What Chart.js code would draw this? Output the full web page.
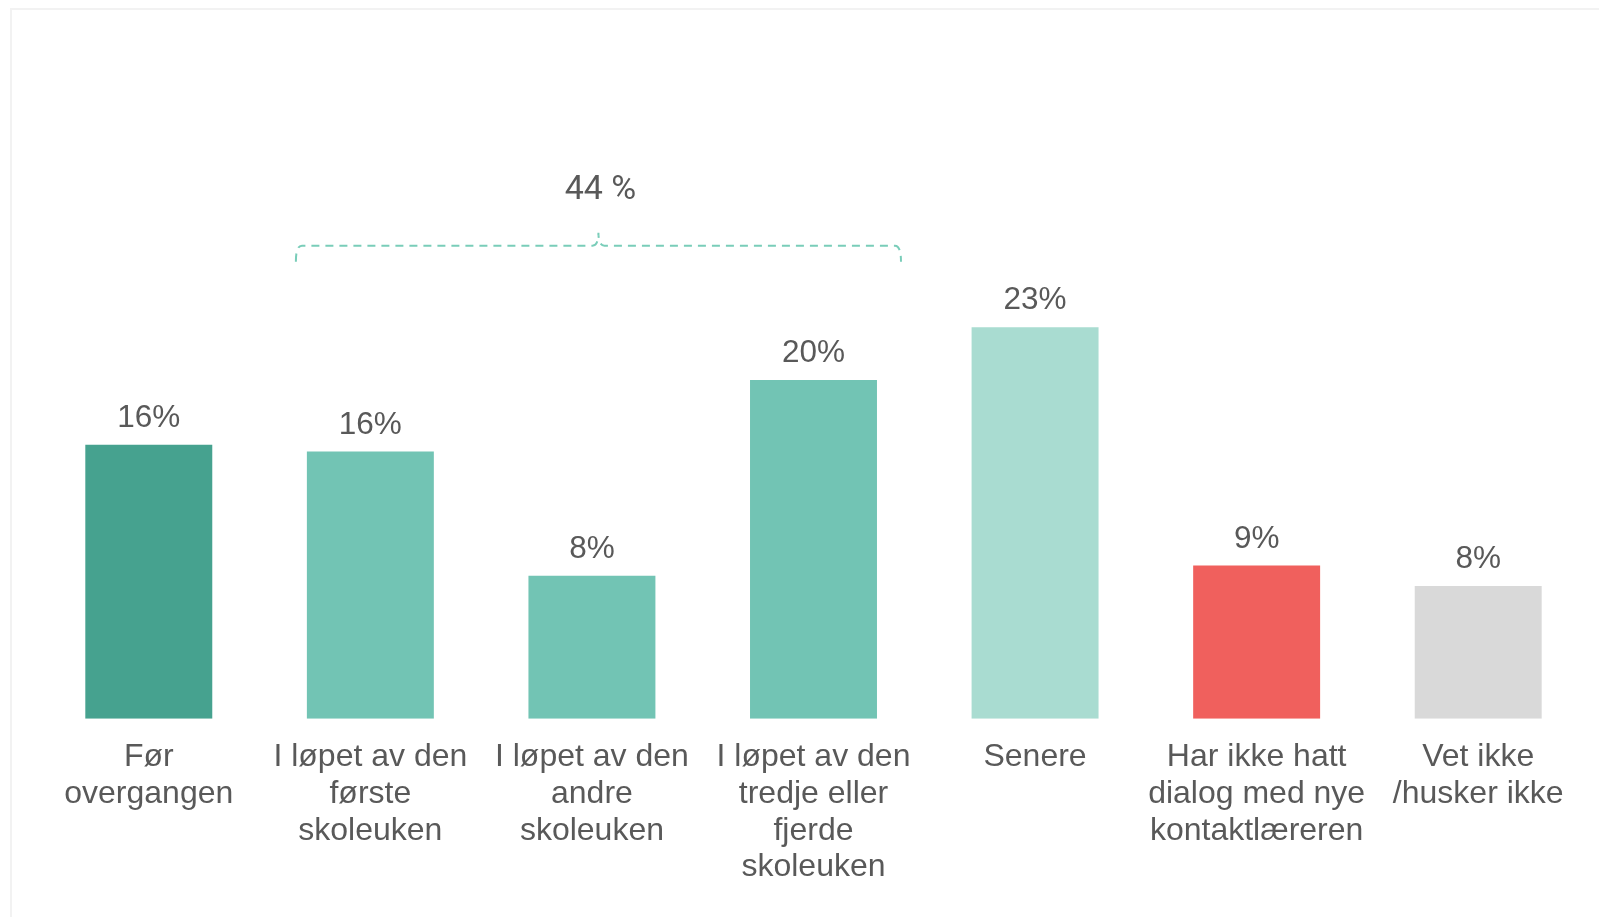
<!DOCTYPE html>
<html>
<head>
<meta charset="utf-8">
<script src="https://cdn.jsdelivr.net/npm/chart.js@4"></script>
<style>
  html, body { margin: 0; padding: 0; background: #fff; }
  #wrap { position: relative; width: 1599px; height: 917px; }
</style>
</head>
<body>
<div id="wrap"><canvas id="chart-overgang"></canvas></div>
<script>
  // kategorier (flere linjer per etikett)
  const kategorier = [
    ["Før", "overgangen"],
    ["I løpet av den", "første", "skoleuken"],
    ["I løpet av den", "andre", "skoleuken"],
    ["I løpet av den", "tredje eller", "fjerde", "skoleuken"],
    ["Senere"],
    ["Har ikke hatt", "dialog med nye", "kontaktlæreren"],
    ["Vet ikke", "/husker ikke"]
  ];
  const andeler = [16.1, 15.7, 8.4, 19.9, 23.0, 9.0, 7.8];
  const farger = ["#46a28f", "#72c4b4", "#72c4b4", "#72c4b4", "#a9dcd1", "#f0605d", "#d9d9d9"];
  // klammen samler kategori 1..3
  const gruppe = [1, 2, 3];

  const tekstFarge = "#595959";

  /* ============ ramme, verdier og klamme ============ */
  const tegnPlugin = {
    id: "tegn",
    beforeDraw(chart) {
      let ctx = chart.ctx;
      ctx.save();
      ctx.fillStyle = "#f2f2f2";
      ctx.fillRect(10, 8, chart.width - 10, 2);
      ctx.fillRect(10, 8, 2, chart.height - 8);
      ctx.restore();
    },
    afterDatasetsDraw(chart) {
      let ctx = chart.ctx;
      let meta = chart.getDatasetMeta(0);
      let { y } = chart.scales;

      ctx.save();
      ctx.fillStyle = tekstFarge;
      ctx.font = "31.5px 'Liberation Sans', Arial, sans-serif";
      ctx.textAlign = "center";
      ctx.textBaseline = "alphabetic";
      meta.data.forEach((bar, i) => {
        ctx.fillText(Math.round(andeler[i]) + "%", bar.x, bar.y - 18);
      });

      // klamme
      let forste = meta.data[gruppe[0]];
      let siste = meta.data[gruppe[gruppe.length - 1]];
      let venstre = forste.x - forste.width / 2 - 11;
      let hoyre = siste.x + siste.width / 2 + 24;
      let midt = (venstre + hoyre) / 2;
      let linjeY = y.getPixelForValue(27.8);

      ctx.strokeStyle = "#79cdb9";
      ctx.lineWidth = 2;
      ctx.setLineDash([8, 6]);
      ctx.beginPath();
      ctx.moveTo(venstre, linjeY + 16);
      ctx.quadraticCurveTo(venstre, linjeY, venstre + 6, linjeY);
      ctx.lineTo(midt - 6, linjeY);
      ctx.quadraticCurveTo(midt, linjeY, midt, linjeY - 13);
      ctx.quadraticCurveTo(midt, linjeY, midt + 6, linjeY);
      ctx.lineTo(hoyre - 6, linjeY);
      ctx.quadraticCurveTo(hoyre, linjeY, hoyre, linjeY + 16);
      ctx.stroke();
      ctx.setLineDash([]);

      let sum = gruppe.reduce((s, i) => s + andeler[i], 0);
      ctx.font = "34px Roboto, 'Open Sans', sans-serif";
      ctx.textBaseline = "middle";
      ctx.fillText(Math.round(sum) + " %", midt + 2, linjeY - 55);
      ctx.restore();
    }
  };

  let canvasOvergang = document.getElementById("chart-overgang").getContext("2d");

  let overgangChart = new Chart(canvasOvergang, {
    type: "bar",
    data: {
      labels: kategorier,
      datasets: [{
        label: "Andel",
        data: andeler,
        backgroundColor: farger,
        borderWidth: 0,
        barPercentage: 0.573,
        categoryPercentage: 1
      }]
    },
    options: {
      responsive: true,
      maintainAspectRatio: false,
      animation: false,
      layout: { padding: { left: 38, right: 10, top: 38, bottom: 19 } },
      plugins: {
        legend: { display: false },
        tooltip: { enabled: false }
      },
      scales: {
        y: { display: false, min: 0, max: 40 },
        x: {
          grid: { display: false },
          border: { display: false },
          ticks: {
            autoSkip: false,
            maxRotation: 0,
            minRotation: 0,
            padding: 12,
            color: tekstFarge,
            font: { family: "'Liberation Sans', Arial, sans-serif", size: 32, lineHeight: 1.15 }
          }
        }
      }
    },
    plugins: [tegnPlugin]
  });
</script>
</body>
</html>
